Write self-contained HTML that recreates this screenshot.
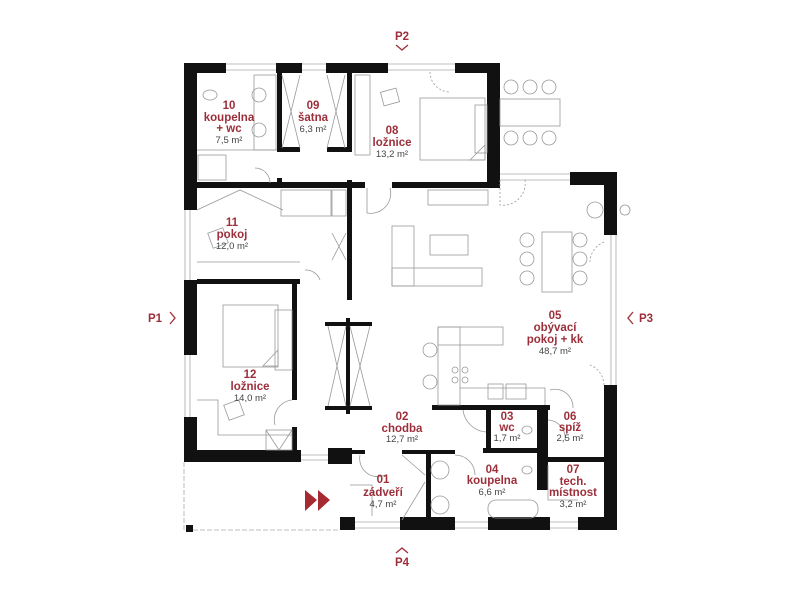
<!DOCTYPE html>
<html><head><meta charset="utf-8"><style>
html,body{margin:0;padding:0;background:#fff;width:800px;height:600px;overflow:hidden}
svg{display:block}
.l{font-family:"Liberation Sans",sans-serif;font-weight:bold;font-size:11.5px;fill:#9c2f3a;text-anchor:middle}
.a{font-family:"Liberation Sans",sans-serif;font-size:9.5px;fill:#444;text-anchor:middle}
.f{fill:none;stroke:#999;stroke-width:0.8}
.w{fill:#111}
.win{fill:none;stroke:#aaa;stroke-width:0.8}
</style></head><body>
<svg width="800" height="600" viewBox="0 0 800 600">
<g class="win">
<path d="M225 64H276M225 70H276M302 64H327M302 70H327M387 64H455M387 70H455"/>
<path d="M500 174H570M500 180H570"/>
<path d="M611 235V385M616 235V385"/>
<path d="M185 210V280M190 210V280M185 355V438M190 355V438"/>
<path d="M355 522H400M355 528H400M455 522H488M455 528H488M550 522H578M550 528H578"/>
<path d="M300 455H330M300 460H330"/>
<path d="M184 462V530H340" stroke-dasharray="5 2"/>
</g>
<g class="w">
<rect x="184" y="63" width="42" height="10"/>
<rect x="184" y="63" width="13" height="147"/>
<rect x="276" y="63" width="26" height="10"/>
<rect x="326" y="63" width="62" height="10"/>
<rect x="455" y="63" width="45" height="10"/>
<rect x="487" y="63" width="13" height="125"/>
<rect x="184" y="280" width="13" height="75"/>
<rect x="184" y="417" width="13" height="45"/>
<rect x="184" y="450" width="117" height="12"/>
<rect x="197" y="182" width="168" height="6"/>
<rect x="392" y="182" width="108" height="6"/>
<rect x="277" y="63" width="5" height="88"/>
<rect x="277" y="147" width="23" height="5"/>
<rect x="327" y="147" width="25" height="5"/>
<rect x="347" y="63" width="5" height="89"/>
<rect x="277" y="178" width="5" height="10"/>
<rect x="347" y="180" width="5" height="120"/>
<rect x="197" y="279" width="103" height="5"/>
<rect x="292" y="283" width="5" height="117"/>
<rect x="292" y="427" width="5" height="30"/>
<rect x="325" y="322" width="47" height="4"/>
<rect x="325" y="406" width="47" height="4"/>
<rect x="346" y="318" width="4" height="96"/>
<rect x="328" y="448" width="24" height="16"/>
<rect x="352" y="450" width="13" height="4"/>
<rect x="570" y="172" width="42" height="13"/>
<rect x="604" y="172" width="13" height="63"/>
<rect x="604" y="385" width="13" height="145"/>
<rect x="432" y="405" width="118" height="5"/>
<rect x="486" y="405" width="5" height="45"/>
<rect x="483" y="448" width="57" height="5"/>
<rect x="537" y="405" width="11" height="85"/>
<rect x="548" y="457" width="57" height="5"/>
<rect x="402" y="450" width="53" height="4"/>
<rect x="426" y="452" width="5" height="68"/>
<rect x="340" y="517" width="15" height="13"/>
<rect x="400" y="517" width="55" height="13"/>
<rect x="488" y="517" width="62" height="13"/>
<rect x="578" y="517" width="39" height="13"/>
<rect x="186" y="525" width="7" height="7"/>
</g>
<g class="f">
<rect x="420" y="98" width="65" height="62"/><rect x="475" y="105" width="12" height="48"/>
<path d="M470 160L485 145V160Z"/>
<rect x="382" y="90" width="16" height="14" transform="rotate(-15 390 97)"/>
<rect x="355" y="75" width="15" height="80"/>
<path d="M430 72A20 20 0 0 0 450 92" stroke-dasharray="2 2"/>
<circle cx="259" cy="95" r="7"/><circle cx="259" cy="130" r="7"/><rect x="254" y="75" width="22" height="75"/>
<rect x="198" y="155" width="28" height="25"/><path d="M197 150H277"/>
<ellipse cx="210" cy="95" rx="7" ry="5"/>
<path d="M282 75L300 148M300 75L282 148M327 75L345 148M345 75L327 148"/>
<path d="M255 168A15 15 0 0 1 270 183"/>
<path d="M367 188V213A20 20 0 0 0 390 188"/>
<rect x="281" y="190" width="50" height="26"/><rect x="332" y="190" width="14" height="26"/>
<path d="M197 210L240 190L283 210"/>
<rect x="210" y="230" width="16" height="16" transform="rotate(-20 218 238)"/>
<path d="M197 262H300"/>
<path d="M332 233L346 260M346 233L332 260"/>
<path d="M305 270A15 15 0 0 1 320 280"/>
<rect x="223" y="305" width="55" height="62"/><rect x="275" y="310" width="17" height="60"/>
<path d="M263 366L278 350V366Z"/>
<rect x="226" y="402" width="16" height="16" transform="rotate(-20 234 410)"/>
<path d="M197 400H218V435H292"/>
<path d="M292 400A20 20 0 0 0 275 425"/>
<rect x="266" y="430" width="26" height="20"/><path d="M266 430L279 450L292 430"/>
<path d="M328 326L346 406M346 326L328 406M350 326L370 406M370 326L350 406"/>
<rect x="428" y="190" width="60" height="15"/>
<rect x="392" y="226" width="22" height="60"/><rect x="392" y="268" width="90" height="18"/>
<rect x="430" y="235" width="38" height="20"/>
<rect x="542" y="232" width="30" height="60"/>
<circle cx="527" cy="240" r="7"/><circle cx="527" cy="259" r="7"/><circle cx="527" cy="278" r="7"/>
<circle cx="580" cy="240" r="7"/><circle cx="580" cy="259" r="7"/><circle cx="580" cy="278" r="7"/>
<circle cx="595" cy="210" r="8"/><circle cx="625" cy="210" r="5"/>
<rect x="500" y="99" width="60" height="27"/>
<circle cx="511" cy="87" r="7"/><circle cx="530" cy="87" r="7"/><circle cx="549" cy="87" r="7"/>
<circle cx="511" cy="138" r="7"/><circle cx="530" cy="138" r="7"/><circle cx="549" cy="138" r="7"/>
<path d="M500 180V205A22 22 0 0 0 525 180" stroke-dasharray="2 2"/>
<path d="M604 242A22 22 0 0 0 590 262" stroke-dasharray="2 2"/>
<path d="M604 385A22 22 0 0 0 590 365" stroke-dasharray="2 2"/>
<rect x="438" y="327" width="65" height="18"/><rect x="438" y="327" width="22" height="78"/>
<path d="M460 388H545V405"/><rect x="488" y="384" width="15" height="15"/><rect x="506" y="384" width="20" height="15"/>
<circle cx="455" cy="370" r="3"/><circle cx="465" cy="370" r="3"/><circle cx="455" cy="380" r="3"/><circle cx="465" cy="380" r="3"/>
<circle cx="430" cy="350" r="7"/><circle cx="430" cy="382" r="7"/>
<path d="M550 390A18 18 0 0 1 573 408"/>
<path d="M463 410A25 25 0 0 0 486 432"/>
<ellipse cx="527" cy="430" rx="5" ry="4"/><ellipse cx="527" cy="470" rx="5" ry="4"/>
<rect x="488" y="500" width="50" height="18" rx="8"/>
<circle cx="440" cy="470" r="9"/><circle cx="440" cy="505" r="9"/>
<path d="M455 455A20 20 0 0 1 475 475"/>
<path d="M402 455L425 475M402 520L425 482"/>
<path d="M360 455A18 18 0 0 0 385 475"/>
<path d="M350 485H372V516"/>
<path d="M548 420A18 18 0 0 1 565 440"/>
<path d="M548 465V500H578"/>
</g>
<path d="M305 490L317 500L305 511Z M318 490L330 500L318 511Z" fill="#a52a32"/>
<g fill="none" stroke="#9c2f3a" stroke-width="1.3">
<path d="M396 45L402 50L408 45"/><path d="M396 553L402 548L408 553"/>
<path d="M170 312L175 318L170 324"/><path d="M633 312L628 318L633 324"/>
</g>
<text class="l" x="402" y="40">P2</text>
<text class="l" x="402" y="566">P4</text>
<text class="l" x="155" y="322">P1</text>
<text class="l" x="646" y="322">P3</text>
<text class="l" x="229" y="109">10</text><text class="l" x="229" y="121">koupelna</text><text class="l" x="229" y="132">+ wc</text><text class="a" x="229" y="143">7,5 m²</text>
<text class="l" x="313" y="109">09</text><text class="l" x="313" y="121">šatna</text><text class="a" x="313" y="132">6,3 m²</text>
<text class="l" x="392" y="134">08</text><text class="l" x="392" y="146">ložnice</text><text class="a" x="392" y="157">13,2 m²</text>
<text class="l" x="232" y="226">11</text><text class="l" x="232" y="238">pokoj</text><text class="a" x="232" y="249">12,0 m²</text>
<text class="l" x="250" y="378">12</text><text class="l" x="250" y="390">ložnice</text><text class="a" x="250" y="401">14,0 m²</text>
<text class="l" x="555" y="319">05</text><text class="l" x="555" y="331">obývací</text><text class="l" x="555" y="343">pokoj + kk</text><text class="a" x="555" y="354">48,7 m²</text>
<text class="l" x="402" y="420">02</text><text class="l" x="402" y="432">chodba</text><text class="a" x="402" y="442">12,7 m²</text>
<text class="l" x="507" y="420">03</text><text class="l" x="507" y="431">wc</text><text class="a" x="507" y="441">1,7 m²</text>
<text class="l" x="570" y="420">06</text><text class="l" x="570" y="431">spíž</text><text class="a" x="570" y="441">2,5 m²</text>
<text class="l" x="492" y="473">04</text><text class="l" x="492" y="484">koupelna</text><text class="a" x="492" y="495">6,6 m²</text>
<text class="l" x="573" y="473">07</text><text class="l" x="573" y="485">tech.</text><text class="l" x="573" y="496">místnost</text><text class="a" x="573" y="507">3,2 m²</text>
<text class="l" x="383" y="483">01</text><text class="l" x="383" y="496">zádveří</text><text class="a" x="383" y="507">4,7 m²</text>
</svg>
</body></html>
